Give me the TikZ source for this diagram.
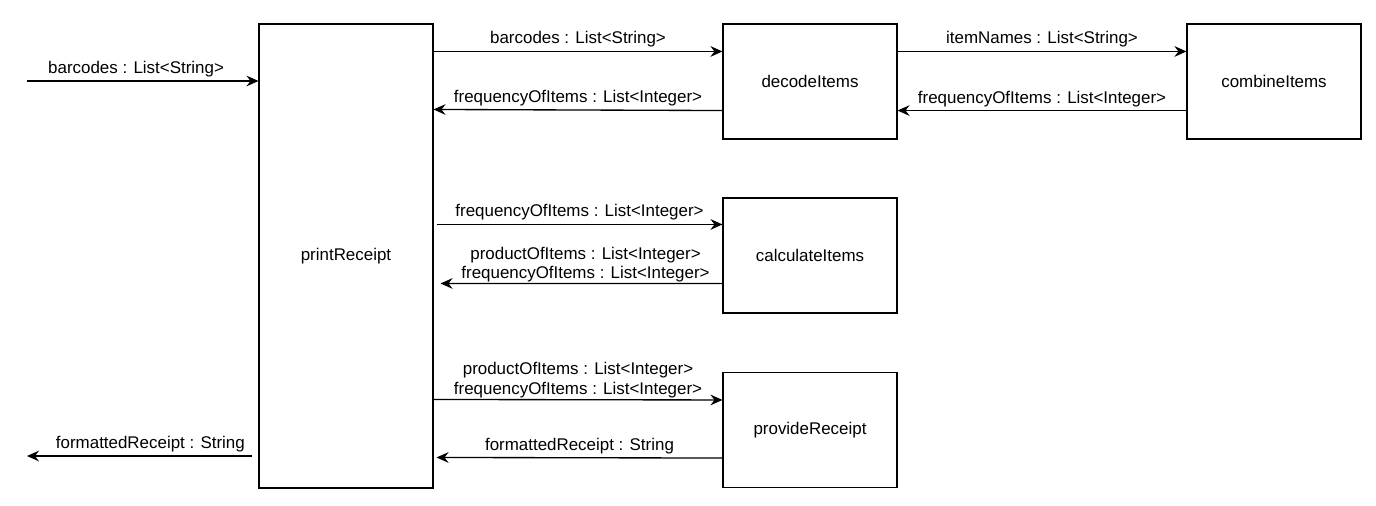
\documentclass[tikz,border=0pt]{standalone}
\usepackage{fontspec}
\setmainfont{Liberation Sans}
\usepackage{tikz}
\usetikzlibrary{arrows.meta, positioning, calc}

\begin{document}
\begin{tikzpicture}[
  x=0.75pt, y=-0.75pt,
  func/.style={draw, line width=0.8pt, minimum width=174*0.75pt, font=\fontsize{12.7}{15}\selectfont},
  flow/.style={-{Stealth[length=9pt, width=8pt, inset=3pt]}, line width=1pt},
  msg/.style={font=\fontsize{12.7}{14.5}\selectfont, align=center, inner sep=2.5pt},
]
\useasboundingbox (0,0) rectangle (1376,506);

% Functions
\node[func, minimum height=464*0.75pt] (print) at (346,256) {printReceipt};
\foreach \name/\x/\y/\txt in {dec/810/81.5/decodeItems, comb/1274/81.5/combineItems,
                              calc/810/255.5/calculateItems, prov/810/430/provideReceipt} {
  \node[func, minimum height=115*0.75pt] (\name) at (\x,\y) {\txt};
}

% Input and output
\coordinate (in) at (27,81);
\coordinate (out) at (27,456);
\draw[flow] (in) -- node[msg, above, xshift=-5pt] {barcodes : List<String>} (print.west |- in);
\draw[flow] ($(print.west |- out)+(-6,0)$) -- node[msg, above, xshift=8pt] {formattedReceipt : String} (out);

% decodeItems
\draw[flow] ($(print.north east)+(0,28)$) -- node[msg, above] {barcodes : List<String>} ($(dec.north west)+(0,28)$);
\draw[flow] ($(dec.south west)+(0,-29)$) -- node[msg, above] {frequencyOfItems : List<Integer>} ($(print.north east)+(0,86)$);

% combineItems
\draw[flow] ($(dec.north east)+(0,28)$) -- node[msg, above] {itemNames : List<String>} ($(comb.north west)+(0,28)$);
\draw[flow] ($(comb.south west)+(0,-29)$) -- node[msg, above] {frequencyOfItems : List<Integer>} ($(dec.south east)+(0,-29)$);

% calculateItems
\draw[flow] ($(print.north east)+(3,201)$) -- node[msg, above] {frequencyOfItems : List<Integer>} ($(calc.north west)+(0,27)$);
\draw[flow] ($(calc.south west)+(0,-30)$) -- node[msg, above=-2pt, xshift=3pt] {productOfItems : List<Integer>\\frequencyOfItems : List<Integer>} ($(print.north east)+(7,260)$);

% provideReceipt
\draw[flow] ($(print.north east)+(0,376)$) -- node[msg, above=-1.5pt] {productOfItems : List<Integer>\\frequencyOfItems : List<Integer>} ($(prov.north west)+(0,28)$);
\draw[flow] ($(prov.south west)+(0,-30)$) -- node[msg, above] {formattedReceipt : String} ($(print.north east)+(3,434)$);
\end{tikzpicture}
\end{document}
